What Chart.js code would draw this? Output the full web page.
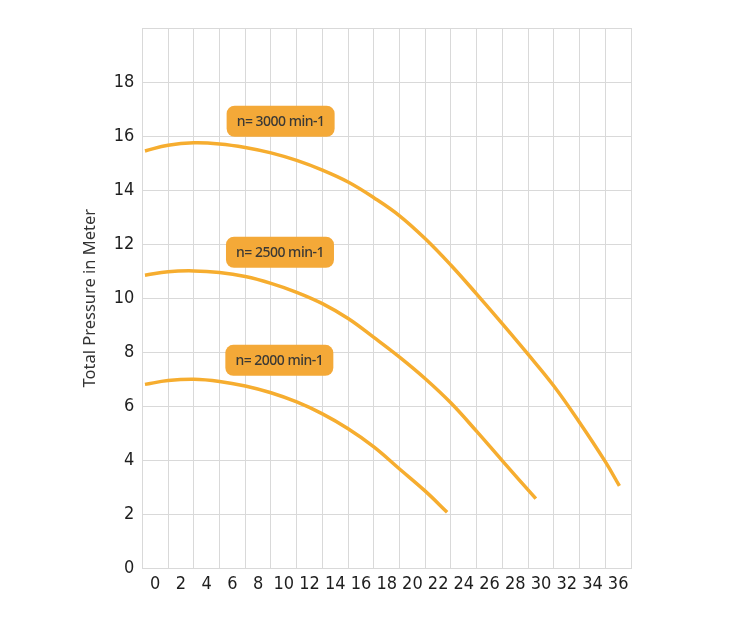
<!DOCTYPE html>
<html>
<head>
<meta charset="utf-8">
<script src="https://cdn.jsdelivr.net/npm/chart.js@4.4.0/dist/chart.umd.min.js"></script>
<style>
  html, body { margin: 0; padding: 0; background: #fff; }
  #wrap { width: 751px; height: 620px; }
</style>
</head>
<body>
<div id="wrap"><canvas id="pumpChart" width="751" height="620"></canvas></div>
<script>
// flow values (x) and pressure values (y) per speed curve
let flow3000 = [-0.8, 1, 3, 5, 7, 9, 11, 13, 15, 17, 19, 21, 23, 25, 27, 29, 31, 33, 35, 36.1];
let head3000 = [15.45, 15.66, 15.75, 15.71, 15.58, 15.38, 15.1, 14.74, 14.3, 13.72, 13.05, 12.2, 11.22, 10.15, 9.05, 7.92, 6.75, 5.4, 3.95, 3.05];

let flow2500 = [-0.8, 1, 3, 5, 7, 9, 11, 13, 15, 17, 19, 21, 23, 25, 27, 29.6];
let head2500 = [10.85, 10.98, 11.01, 10.95, 10.8, 10.55, 10.22, 9.8, 9.25, 8.55, 7.82, 7.02, 6.12, 5.07, 3.98, 2.58];

let flow2000 = [-0.8, 1, 3, 5, 7, 9, 11, 13, 15, 17, 19, 21, 22.7];
let head2000 = [6.81, 6.95, 7.0, 6.92, 6.75, 6.5, 6.16, 5.72, 5.17, 4.5, 3.68, 2.86, 2.08];

let curveNames = ['n= 3000 min-1', 'n= 2500 min-1', 'n= 2000 min-1'];
// where each name tag sits, in chart units
let tagX = [9.75, 9.7, 9.65];
let tagY = [16.55, 11.7, 7.7];

let xTicks = [0, 2, 4, 6, 8, 10, 12, 14, 16, 18, 20, 22, 24, 26, 28, 30, 32, 34, 36];
let yTicks = [0, 2, 4, 6, 8, 10, 12, 14, 16, 18];

function pts(xs, ys) {
  return xs.map((x, i) => ({ x: x, y: ys[i] }));
}

let lineColor = '#f6ad2f';
let gridColor = '#d9d9d9';
let tickFont = { family: '"DejaVu Sans Condensed", "Liberation Sans Narrow", "Liberation Sans"', size: 18 };

let tagPlugin = {
  id: 'tags',
  afterDatasetsDraw(chart) {
    let c = chart.ctx;
    let xs = chart.scales.x, ys = chart.scales.y;
    c.save();
    for (let i = 0; i < curveNames.length; i++) {
      let cx = xs.getPixelForValue(tagX[i]);
      let cy = ys.getPixelForValue(tagY[i]);
      let w = 108, h = 31;
      c.fillStyle = '#f4a938';
      c.beginPath();
      c.roundRect(cx - w / 2, cy - h / 2, w, h, 8);
      c.fill();
      c.fillStyle = '#3b3935';
      c.font = '500 14px "Noto Sans"';
      c.letterSpacing = '-0.5px';
      c.textAlign = 'center';
      c.textBaseline = 'middle';
      c.fillText(curveNames[i], cx, cy + 1);
    }
    c.restore();
  }
};

let ctx = document.getElementById('pumpChart').getContext('2d');
let myChart = new Chart(ctx, {
  type: 'scatter',
  data: {
    datasets: [
      { label: curveNames[0], data: pts(flow3000, head3000) },
      { label: curveNames[1], data: pts(flow2500, head2500) },
      { label: curveNames[2], data: pts(flow2000, head2000) }
    ].map(d => Object.assign(d, {
      showLine: true,
      borderColor: lineColor,
      borderWidth: 3.5,
      pointRadius: 0,
      tension: 0.4,
      fill: false
    }))
  },
  options: {
    responsive: false,
    animation: { duration: 0 },
    layout: { padding: { top: 28, right: 120, bottom: 20, left: 76 } },
    plugins: {
      legend: { display: false },
      tooltip: { enabled: false }
    },
    scales: {
      x: {
        type: 'linear',
        min: -1,
        max: 37,
        afterBuildTicks: axis => {
          let t = [];
          for (let v = -1; v <= 37; v++) t.push({ value: v });
          axis.ticks = t;
        },
        border: { color: gridColor },
        grid: {
          drawTicks: false,
          color: c => (c.tick && Math.abs(c.tick.value % 2) === 1) ? gridColor : 'rgba(0,0,0,0)'
        },
        ticks: {
          autoSkip: false,
          maxRotation: 0,
          padding: 5,
          color: '#1e1e1e',
          font: tickFont,
          callback: v => xTicks.includes(v) ? String(v) : ''
        }
      },
      y: {
        min: 0,
        max: 20,
        afterBuildTicks: axis => {
          axis.ticks = yTicks.concat([20]).map(v => ({ value: v }));
        },
        border: { color: gridColor },
        grid: { drawTicks: false, color: gridColor },
        ticks: {
          padding: 8,
          color: '#1e1e1e',
          font: tickFont,
          callback: v => yTicks.includes(v) ? String(v) : ''
        },
        title: {
          display: true,
          text: 'Total Pressure in Meter',
          color: '#333',
          padding: { bottom: 6 },
          font: { family: '"Noto Sans"', size: 16.5 }
        }
      }
    }
  },
  plugins: [tagPlugin]
});
</script>
</body>
</html>
